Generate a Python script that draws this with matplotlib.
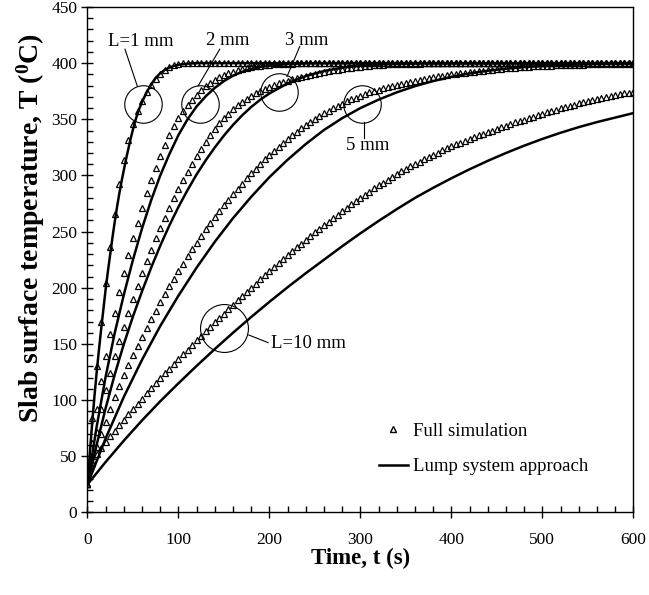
import numpy as np
import matplotlib.pyplot as plt
from matplotlib.lines import Line2D
from matplotlib.ticker import MultipleLocator

plt.rcParams['font.family'] = 'serif'
plt.rcParams['font.serif'] = ['Liberation Serif', 'DejaVu Serif']
plt.rcParams['mathtext.fontset'] = 'custom'
plt.rcParams['mathtext.rm'] = 'Liberation Serif'
plt.rcParams['mathtext.bf'] = 'Liberation Serif:bold'

# full simulation, sampled every 5 s (0..600 s)
t_sim = np.arange(0, 601, 5)

sim_1mm = [25, 84, 130, 170, 204, 236, 266, 292, 314, 332,
           346, 357.5, 366.5, 374, 380.5, 386, 390.5, 394, 396.5, 398.2,
           399.2, 399.7, 400, 400, 400, 400, 400, 400, 400, 400,
           400, 400, 400, 400, 400, 400, 400, 400, 400, 400,
           400, 400, 400, 400, 400, 400, 400, 400, 400, 400,
           400, 400, 400, 400, 400, 400, 400, 400, 400, 400,
           400, 400, 400, 400, 400, 400, 400, 400, 400, 400,
           400, 400, 400, 400, 400, 400, 400, 400, 400, 400,
           400, 400, 400, 400, 400, 400, 400, 400, 400, 400,
           400, 400, 400, 400, 400, 400, 400, 400, 400, 400,
           400, 400, 400, 400, 400, 400, 400, 400, 400, 400,
           400, 400, 400, 400, 400, 400, 400, 400, 400, 400,
           400]

sim_2mm = [25, 62, 92, 117, 139, 159, 178, 196, 213, 229,
           244, 258, 271, 284, 296, 307, 317.5, 327, 336, 344,
           351, 357, 362.5, 367.5, 372, 376, 379.5, 382.5, 385, 387.3,
           389.3, 391, 392.5, 393.8, 394.9, 395.8, 396.6, 397.3, 397.8, 398.3,
           398.7, 399, 399.2, 399.4, 399.5, 399.6, 399.7, 399.8, 399.85, 399.9,
           399.95, 400, 400, 400, 400, 400, 400, 400, 400, 400,
           400, 400, 400, 400, 400, 400, 400, 400, 400, 400,
           400, 400, 400, 400, 400, 400, 400, 400, 400, 400,
           400, 400, 400, 400, 400, 400, 400, 400, 400, 400,
           400, 400, 400, 400, 400, 400, 400, 400, 400, 400,
           400, 400, 400, 400, 400, 400, 400, 400, 400, 400,
           400, 400, 400, 400, 400, 400, 400, 400, 400, 400,
           400]

sim_3mm = [25, 50, 72, 92, 108.7, 124.3, 139, 152.3, 165.3, 178,
           190, 201.7, 213, 223.7, 234, 244, 253.3, 262.3, 271, 279.7,
           288, 296, 303.3, 310.5, 317.5, 323.8, 330, 336, 341.3, 346.3,
           351, 355, 358.8, 362.3, 365.5, 368.4, 371, 373.3, 375.4, 377.3,
           379, 380.6, 382, 383.3, 384.5, 385.7, 386.8, 387.8, 388.8, 389.7,
           390.6, 391.4, 392.2, 392.9, 393.6, 394.2, 394.8, 395.4, 395.9, 396.4,
           396.9, 397.3, 397.7, 398, 398.3, 398.6, 398.8, 399, 399.2, 399.3,
           399.4, 399.5, 399.6, 399.65, 399.7, 399.75, 399.8, 399.82, 399.85, 399.87,
           399.9, 399.9, 399.9, 399.9, 399.9, 399.9, 399.9, 399.9, 399.9, 399.9,
           400, 400, 400, 400, 400, 400, 400, 400, 400, 400,
           400, 400, 400, 400, 400, 400, 400, 400, 400, 400,
           400, 400, 400, 400, 400, 400, 400, 400, 400, 400,
           400]

sim_5mm = [25, 45, 58, 70, 80.8, 92, 102.5, 112.5, 122, 131.2,
           140.2, 148.5, 156.5, 164.3, 172, 179.5, 187, 194.2, 201.3, 208.2,
           215, 221.6, 228, 234.2, 240.3, 246.2, 252, 257.5, 263, 268.2,
           273.4, 278.4, 283.3, 288.1, 292.8, 297.4, 301.8, 306.1, 310.3, 314.3,
           318.2, 322, 325.6, 329.1, 332.5, 335.8, 339, 342, 344.9, 347.7,
           350.4, 353, 355.4, 357.7, 359.9, 362, 364, 365.9, 367.7, 369.4,
           371, 372.5, 373.9, 375.2, 376.4, 377.6, 378.7, 379.8, 380.8, 381.8,
           382.7, 383.6, 384.4, 385.2, 386, 386.7, 387.4, 388.1, 388.7, 389.3,
           389.9, 390.5, 391, 391.5, 392, 392.5, 393, 393.4, 393.8, 394.2,
           394.6, 395, 395.3, 395.6, 395.9, 396.2, 396.5, 396.8, 397, 397.2,
           397.4, 397.6, 397.8, 398, 398.2, 398.3, 398.4, 398.5, 398.6, 398.7,
           398.8, 398.9, 399, 399.1, 399.2, 399.3, 399.4, 399.45, 399.5, 399.55,
           399.6]

sim_10mm = [25, 44, 52, 57.5, 62.8, 67.9, 72.9, 77.8, 82.6, 87.4,
            92.1, 96.8, 101.4, 106, 110.5, 115, 119.4, 123.8, 128.1, 132.4,
            136.6, 140.8, 145, 149.1, 153.2, 157.3, 161.3, 165.3, 169.3, 173.2,
            177.1, 181, 184.9, 188.7, 192.5, 196.3, 200.1, 203.8, 207.5, 211.2,
            214.8, 218.4, 222, 225.5, 229, 232.5, 235.9, 239.3, 242.7, 246,
            249.3, 252.6, 255.8, 259, 262.1, 265.2, 268.3, 271.3, 274.3, 277.2,
            280.1, 282.9, 285.7, 288.4, 291.1, 293.7, 296.3, 298.8, 301.3, 303.6,
            305.9, 308.1, 310.3, 312.4, 314.5, 316.5, 318.5, 320.4, 322.3, 324.1,
            325.9, 327.6, 329.3, 330.9, 332.5, 334.1, 335.6, 337.1, 338.5, 340,
            341.5, 343, 344.4, 345.8, 347.2, 348.5, 349.8, 351.1, 352.4, 353.7,
            355, 356.2, 357.4, 358.6, 359.8, 360.9, 362, 363.1, 364.2, 365.2,
            366.2, 367.2, 368.1, 369, 369.9, 370.8, 371.6, 372.4, 373.1, 373.8,
            374.5]

# lump system approach
t_lump1 = [0, 2.5, 5, 7.5, 10, 12.5, 15, 17.5, 20, 22.5, 25, 27.5, 30, 32.5, 35,
           37.5, 40, 42.5, 45, 47.5, 50, 52.5, 55, 57.5, 60, 65, 70, 75, 80, 85,
           90, 95, 100, 110, 120, 600]
lump_1mm = [25, 52, 78, 102, 124, 144, 163, 181, 199, 215, 230, 245, 259, 272, 284,
            295, 305, 315, 324, 333, 341, 348.5, 355, 360.5, 365.5, 374, 381, 387, 391, 394,
            396, 397.5, 398.5, 399.5, 400, 400]

t_lump2 = [0, 10, 20, 30, 40, 50, 60, 70, 80, 90, 100, 110, 120, 130, 140, 150,
           160, 170, 180, 190, 200, 220, 240, 260, 600]
lump_2mm = [25, 76, 121, 160, 194, 225, 253, 278, 300, 319, 336, 350, 361.5, 370.5,
            378, 384, 388.8, 392.3, 394.8, 396.6, 397.8, 399.2, 399.8, 400, 400]

t_lump3 = [0, 10, 20, 30, 40, 50, 60, 70, 80, 90, 100, 110, 120, 130, 140, 150,
           160, 170, 180, 190, 200, 220, 240, 260, 280, 300, 320, 340, 360, 600]
lump_3mm = [25, 60, 93, 123, 150, 174.5, 197, 218, 237.5, 255.5, 272, 287, 301, 313.5,
            325, 335.5, 345, 353.5, 361, 367.5, 373, 382, 388.5, 393, 396, 397.8,
            398.8, 399.4, 399.8, 400]

t_lump = np.arange(0, 601, 20)
lump_5mm = [25, 66, 103, 136, 166, 193, 218, 241, 262, 281, 298.5, 314, 328, 340.5,
            351, 360, 367.5, 374, 379.5, 384, 387.8, 390.8, 393.2, 395, 396.4, 397.5,
            398.3, 398.9, 399.3, 399.6, 399.8]
lump_10mm = [25, 45, 64, 82, 99, 115, 130.5, 145.5, 160, 174, 187.5, 200.5, 213, 225,
             237, 248.5, 259.5, 270, 280, 289, 297.5, 305.5, 313, 320, 326.5, 332.5,
             338, 343, 347.5, 351.5, 355.5]

# annotation circles and labels
circ_t = [61, 124, 211, 302, 150]
circ_T = [364, 364, 374, 364, 164]
circ_size = [27, 27, 27, 27, 34.5]
labels = ['L=1 mm', '2 mm', '3 mm', '5 mm', 'L=10 mm']
label_t = [22.8, 130.8, 216.8, 284.5, 202.2]
label_T = [419, 420, 420, 327, 150.6]
leader_t = [(41.2, 54.7), (145.4, 121.6), (233.3, 219.3), (303.8, 303.8), (177.3, 198.5)]
leader_T = [(412.4, 379.7), (412.4, 379.7), (414.7, 388), (347.6, 333.4), (158, 151.2)]

fig = plt.figure(figsize=(6.49, 5.95), dpi=100)
ax = fig.add_axes([0.1348, 0.1387, 0.841, 0.8496])

for sim in [sim_1mm, sim_2mm, sim_3mm, sim_5mm, sim_10mm]:
    ax.plot(t_sim, sim, ls='none', marker='^', ms=4.5, mfc='none', mec='k', mew=0.9)

for t, T in [(t_lump1, lump_1mm), (t_lump2, lump_2mm), (t_lump3, lump_3mm),
             (t_lump, lump_5mm), (t_lump, lump_10mm)]:
    ax.plot(t, T, color='k', lw=1.8)

for i in range(len(labels)):
    ax.plot(circ_t[i], circ_T[i], 'o', ms=circ_size[i], mfc='none', mec='k', mew=0.8)
    ax.plot(leader_t[i], leader_T[i], color='k', lw=0.8)
    ax.text(label_t[i], label_T[i], labels[i], fontsize=13.5, ha='left', va='center')

handles = [Line2D([], [], ls='none', marker='^', ms=4, mfc='none', mec='k', mew=1.0),
           Line2D([], [], color='k', lw=1.8)]
ax.legend(handles, ['Full simulation', 'Lump system approach'], loc='upper left',
          bbox_to_anchor=(0.534, 0.178), frameon=False, fontsize=13.5,
          borderpad=0, borderaxespad=0, handlelength=1.55, handletextpad=0.25,
          labelspacing=0.98)

ax.set_xlim(0, 600)
ax.set_ylim(0, 450)
ax.xaxis.set_major_locator(MultipleLocator(100))
ax.xaxis.set_minor_locator(MultipleLocator(20))
ax.yaxis.set_major_locator(MultipleLocator(50))
ax.yaxis.set_minor_locator(MultipleLocator(10))
ax.tick_params(which='major', direction='inout', length=8.6, width=1.0, labelsize=12.5)
ax.tick_params(which='minor', direction='in', length=4.3, width=1.0)
ax.tick_params(axis='x', which='major', pad=9.5)
ax.tick_params(axis='y', which='major', pad=3)
for s in ax.spines.values():
    s.set_linewidth(1.0)

ax.set_xlabel('Time, t (s)', fontsize=16.5, fontweight='bold')
ax.set_ylabel(r'Slab surface temperature, T ($\mathregular{^{0}}$C)', fontsize=20,
              fontweight='bold')
ax.xaxis.set_label_coords(0.5, -0.071)
ax.yaxis.set_label_coords(-0.074, 0.563)

fig.savefig('out.png', dpi=100)
